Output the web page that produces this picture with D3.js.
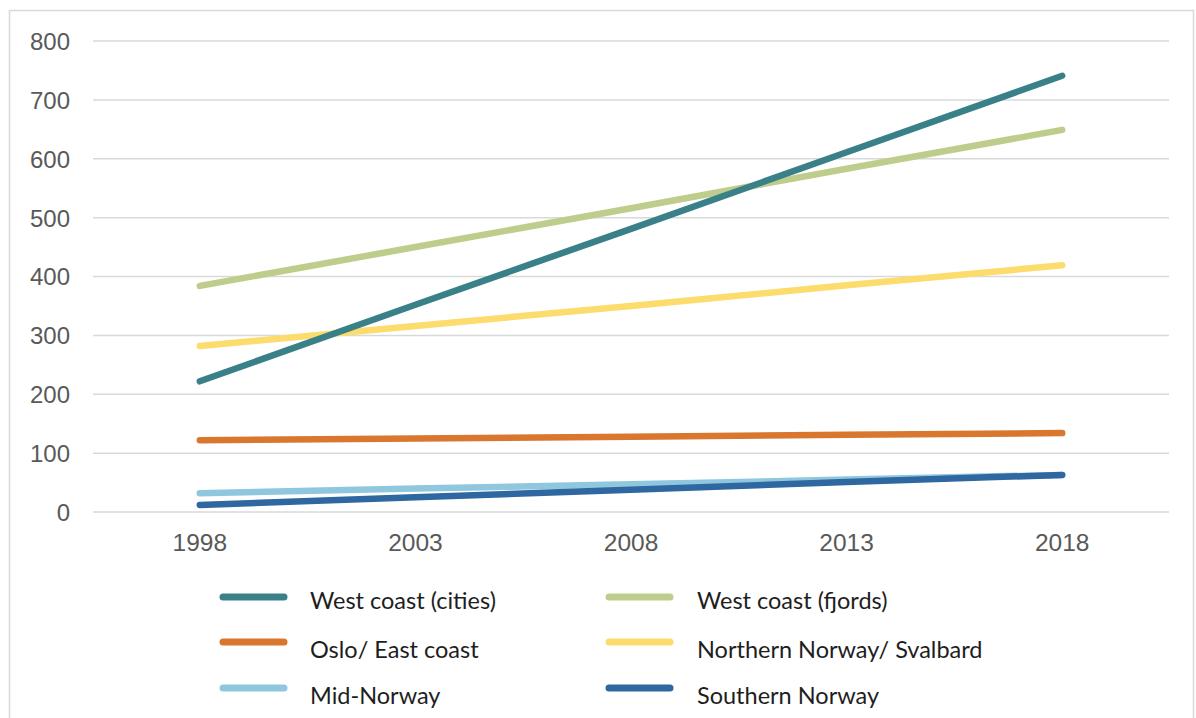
<!DOCTYPE html>
<html><head><meta charset="utf-8">
<script src="https://cdn.jsdelivr.net/npm/d3@7"></script>
<style>body{margin:0;background:#fff}svg{display:block}</style>
</head><body>
<svg id="c" width="1196" height="718"></svg>
<script>
const years = ["1998","2003","2008","2013","2018"];
const yTicks = [0,100,200,300,400,500,600,700,800];
const seriesNames = ["West coast (cities)","West coast (fjords)","Oslo/ East coast","Northern Norway/ Svalbard","Mid-Norway","Southern Norway"];
const westCities = [222,352,481,611,741];
const westFjords = [384,450,516,583,649];
const osloEast = [122,125,128,131,134];
const northern = [282,316,350,385,419];
const midNorway = [32,40,47,55,63];
const southern = [12,25,38,51,63];
const colors = ["#3a8088","#bfcd8c","#d9772f","#fbdc6c","#8fc8de","#2f67a0"];

const seriesValues = [westCities, westFjords, osloEast, northern, midNorway, southern];
// drawing order: back to front
const drawOrder = [4,5,2,3,1,0];

const svg = d3.select("#c");
// frame
svg.append("rect").attr("x",9.5).attr("y",10.5).attr("width",1184).attr("height",730)
  .attr("fill","none").attr("stroke","#d9d9d9").attr("stroke-width",1.5);

const x = d3.scaleBand().domain(years).range([92,1170]);
const y = d3.scaleLinear().domain([0,800]).range([512,41]);

// grid
svg.append("g").selectAll("line").data(yTicks).join("line")
  .attr("x1",93).attr("x2",1169)
  .attr("y1",d=>y(d)).attr("y2",d=>y(d))
  .attr("stroke","#d9d9d9").attr("stroke-width",1.5);

// y axis labels
const yAxis = svg.append("g").attr("transform","translate(70,0)")
  .call(d3.axisLeft(y).tickValues(yTicks).tickSize(0).tickPadding(0));
yAxis.select(".domain").remove();
yAxis.selectAll("text").attr("font-family","Liberation Sans, Arial, sans-serif")
  .attr("font-size",24).attr("fill","#595959").attr("dy","0.35em");

// x axis labels
const xAxis = svg.append("g").attr("transform","translate(0,527)")
  .call(d3.axisBottom(x).tickSize(0).tickPadding(0));
xAxis.select(".domain").remove();
xAxis.selectAll("text").attr("font-family","Liberation Sans, Arial, sans-serif")
  .attr("font-size",24.5).attr("fill","#595959").attr("dy","0.5em").attr("y",12);

const line = d3.line().x((d,i)=>x(years[i])+x.bandwidth()/2).y(d=>y(d));
svg.append("g").selectAll("path").data(drawOrder).join("path")
  .attr("d",i=>line(seriesValues[i]))
  .attr("fill","none").attr("stroke",i=>colors[i]).attr("stroke-width",6.5)
  .attr("stroke-linecap","round").attr("stroke-linejoin","round");

// legend
const legPos = [[223,597],[609,597],[223,642],[609,642],[223,688],[609,688]];
const legTextDy = [4,4,8,8,8,8];
const leg = svg.append("g").selectAll("g").data(seriesNames).join("g")
  .attr("transform",(d,i)=>`translate(${legPos[i][0]},${legPos[i][1]})`);
leg.append("line").attr("x1",0).attr("x2",61).attr("y1",0).attr("y2",0)
  .attr("stroke",(d,i)=>colors[i]).attr("stroke-width",7).attr("stroke-linecap","round");
leg.append("text").attr("x",(d,i)=>i%2===0?87:88).attr("y",(d,i)=>legTextDy[i]).attr("dy","0.35em")
  .attr("font-family","Lato, sans-serif").attr("font-size",23.5).attr("fill","#1e1e1e")
  .text(d=>d);
</script>
</body></html>
